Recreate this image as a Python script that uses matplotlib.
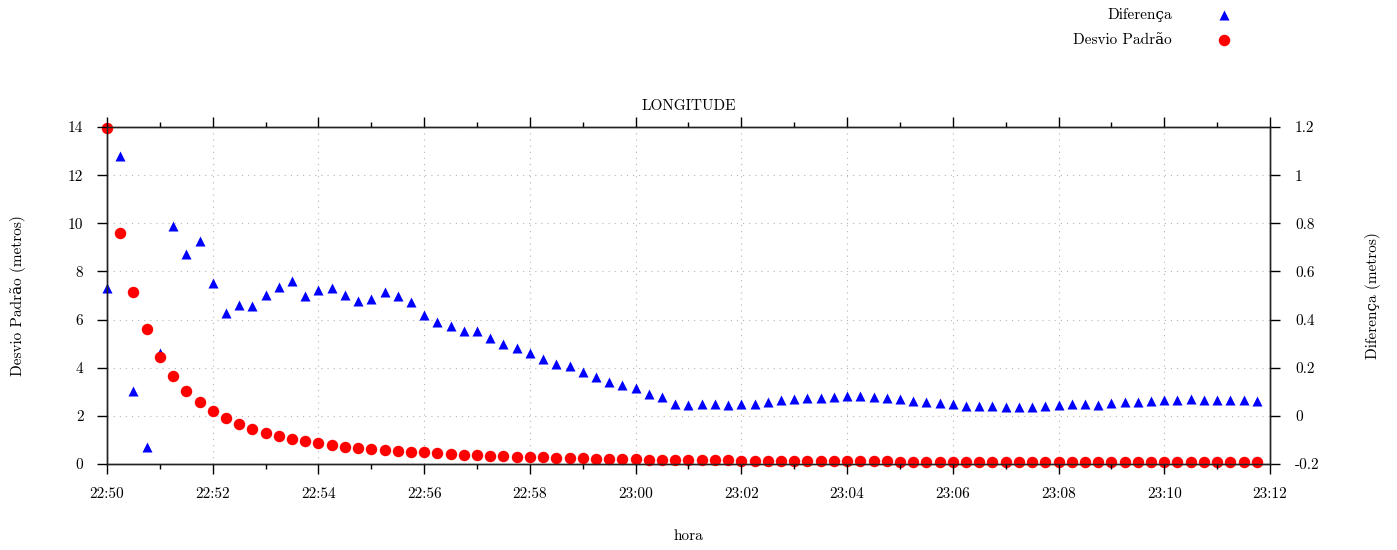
"""
LONGITUDE: desvio padrão e diferença ao longo do tempo
"""

import matplotlib
matplotlib.use('Agg')
import matplotlib.pyplot as plt
import matplotlib.dates as mdates
from matplotlib.ticker import MultipleLocator, FuncFormatter
import numpy as np

# instantes de medição (a cada 15 s, início 22:50:00)
inicio = np.datetime64('2000-01-01T22:50:00')
passo_s = 15
n_pontos = 88

desvio_padrao = [
    13.95, 9.58, 7.16, 5.60, 4.46, 3.67, 3.05, 2.58, 2.20, 1.92, 1.66, 1.45, 1.30,
    1.16, 1.05, 0.96, 0.87, 0.80, 0.72, 0.66, 0.62, 0.58, 0.54, 0.50, 0.49, 0.44,
    0.42, 0.39, 0.37, 0.35, 0.33, 0.31, 0.30, 0.28, 0.26, 0.25, 0.23, 0.22, 0.21,
    0.20, 0.19, 0.18, 0.18, 0.17, 0.17, 0.16, 0.15, 0.15, 0.14, 0.14, 0.13, 0.13,
    0.12, 0.12, 0.12, 0.12, 0.11, 0.11, 0.11, 0.11, 0.10, 0.10, 0.10, 0.10, 0.10,
    0.09, 0.09, 0.09, 0.09, 0.09, 0.09, 0.08, 0.08, 0.08, 0.08, 0.08, 0.08, 0.08,
    0.07, 0.07, 0.07, 0.07, 0.07, 0.07, 0.07, 0.07, 0.07, 0.07,
]

diferenca = [
    0.530, 1.080, 0.103, -0.128, 0.263, 0.788, 0.671, 0.725, 0.551, 0.427, 0.459,
    0.458, 0.504, 0.536, 0.560, 0.498, 0.524, 0.531, 0.504, 0.479, 0.487, 0.516,
    0.499, 0.472, 0.419, 0.391,
    0.375, 0.354, 0.351, 0.322, 0.297, 0.283, 0.261, 0.235, 0.216, 0.207, 0.182,
    0.163, 0.142, 0.128, 0.117, 0.092, 0.077, 0.051, 0.045, 0.049, 0.049, 0.045,
    0.048, 0.051, 0.056, 0.065, 0.070,
    0.076, 0.076, 0.080, 0.081, 0.081, 0.079, 0.073, 0.069, 0.063, 0.058, 0.054,
    0.048, 0.041, 0.041, 0.041, 0.038, 0.038, 0.038, 0.041, 0.045, 0.049, 0.049,
    0.047, 0.052, 0.056, 0.059, 0.063, 0.066, 0.066, 0.068, 0.065, 0.066, 0.065,
    0.065, 0.063,
]

hora = inicio + np.arange(n_pontos) * np.timedelta64(passo_s, 's')
hora = hora.astype('datetime64[ms]').astype(object)

FONTE = ['cmr10', 'DejaVu Serif']
TAM = 11
plt.rcParams['font.family'] = FONTE
plt.rcParams['font.size'] = TAM
plt.rcParams['axes.unicode_minus'] = False
plt.rcParams['axes.formatter.use_mathtext'] = False

fig = plt.figure(figsize=(13.97, 5.5), dpi=100)
ax = fig.add_axes([107 / 1397, 1 - 464 / 550, 1163 / 1397, 337 / 550])
ax2 = ax.twinx()

# eixo esquerdo por cima (círculos vermelhos sobre os triângulos)
ax.set_zorder(ax2.get_zorder() + 1)
ax.patch.set_visible(False)

ax2.scatter(hora, diferenca, marker='^', s=52, color='#0000ff',
            linewidths=0, label='Diferença', clip_on=False)
ax.scatter(hora, desvio_padrao, marker='o', s=68, color='#ff0000',
           linewidths=0, label='Desvio Padrão', clip_on=False)

t0 = np.datetime64('2000-01-01T22:50:00').astype('datetime64[ms]').astype(object)
t1 = np.datetime64('2000-01-01T23:12:00').astype('datetime64[ms]').astype(object)
ax.set_xlim(t0, t1)
ax.set_ylim(0, 14)
ax2.set_ylim(-0.2, 1.2)

ax.xaxis.set_major_locator(mdates.MinuteLocator(byminute=range(0, 60, 2)))
ax.xaxis.set_minor_locator(mdates.MinuteLocator())
ax.xaxis.set_major_formatter(mdates.DateFormatter('%H:%M'))
ax.yaxis.set_major_locator(MultipleLocator(2))
ax2.yaxis.set_major_locator(MultipleLocator(0.2))
ax2.yaxis.set_major_formatter(FuncFormatter(lambda v, p: '%g' % round(v, 2)))

# grade pontilhada no eixo de baixo (por baixo dos pontos)
ax2.xaxis.set_visible(True)
ax2.set_axisbelow(True)
ax2.grid(True, which='major', axis='both', color='#b4b4b4',
         linestyle=(0, (1, 4.5)), linewidth=0.8)
ax2.tick_params(axis='x', which='both', bottom=False, top=False,
                labelbottom=False, labeltop=False)

for a in (ax, ax2):
    for s in a.spines.values():
        s.set_linewidth(1.0)
        s.set_color('#222222')

ax.tick_params(axis='x', which='major', direction='out', length=7, width=1,
               pad=10, top=True, labelsize=TAM)
ax.tick_params(axis='x', which='minor', direction='out', length=3.5, width=1,
               top=True)
ax.tick_params(axis='y', which='major', direction='out', length=7, width=1,
               pad=10, labelsize=TAM)
ax2.tick_params(axis='y', which='major', direction='out', length=7, width=1,
                pad=11, labelsize=TAM)

ax.set_title('LONGITUDE', fontsize=TAM, pad=12)
ax.set_xlabel('hora', fontsize=TAM, labelpad=20)
ax.set_ylabel('Desvio Padrão (metros)', fontsize=TAM, labelpad=30)
ax2.set_ylabel('Diferença (metros)', fontsize=TAM, labelpad=33)

h2, l2 = ax2.get_legend_handles_labels()
h1, l1 = ax.get_legend_handles_labels()
fig.legend(h2 + h1, l2 + l1, loc='upper right',
           bbox_to_anchor=(1239 / 1397, 1 - 5 / 550),
           frameon=False, markerfirst=False, fontsize=TAM,
           handlelength=1.5, handletextpad=2.7, labelspacing=0.75,
           borderaxespad=0, borderpad=0.2)

fig.savefig('out.png', dpi=100)
plt.close(fig)
